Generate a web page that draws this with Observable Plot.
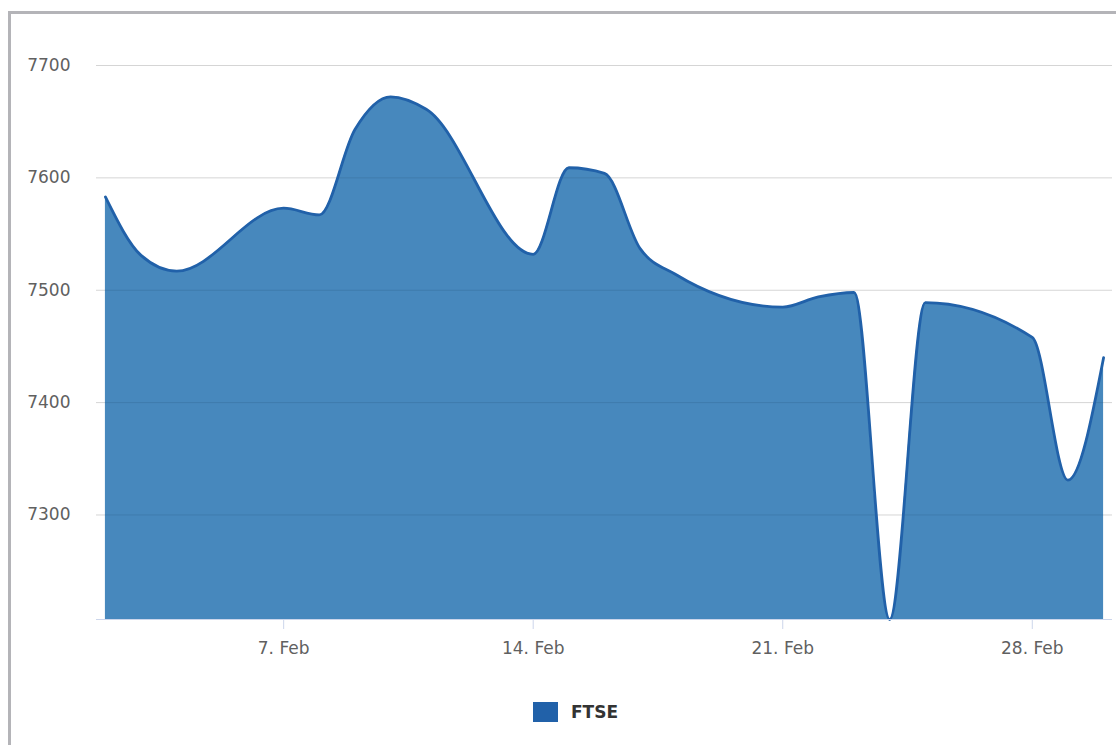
<!DOCTYPE html>
<html>
<head>
<meta charset="utf-8">
<script src="https://cdn.jsdelivr.net/npm/d3@7"></script>
<script src="https://cdn.jsdelivr.net/npm/@observablehq/plot@0.6"></script>
<style>
  html, body { margin: 0; padding: 0; background: #fff; }
  #wrap { position: relative; width: 1116px; height: 745px; overflow: hidden; font-family: "DejaVu Sans", sans-serif; }
  #frame { position: absolute; left: 8px; top: 11px; width: 1200px; height: 800px; border-left: 3px solid #b4b4b8; border-top: 3px solid #b4b4b8; box-sizing: border-box; }
  #chart { position: absolute; left: 0; top: 0; }
  #legend { position: absolute; left: 533px; top: 702px; display: flex; align-items: center; gap: 13px; }
  #legend .sw { width: 25px; height: 20px; background: #2161a9; }
  #legend .lb { font-family: "DejaVu Sans", sans-serif; font-weight: bold; font-size: 17px; color: #333; }
</style>
</head>
<body>
<div id="wrap">
  <div id="frame"></div>
  <div id="chart"></div>
  <div id="legend"><div class="sw"></div><div class="lb">FTSE</div></div>
</div>
<script>
const seriesName = "FTSE";
const dates = [
  "2022-02-02", "2022-02-03", "2022-02-04",
  "2022-02-07", "2022-02-08", "2022-02-09", "2022-02-10", "2022-02-11",
  "2022-02-14", "2022-02-15", "2022-02-16", "2022-02-17", "2022-02-18",
  "2022-02-21", "2022-02-22", "2022-02-23", "2022-02-24", "2022-02-25",
  "2022-02-28", "2022-03-01", "2022-03-02"
];
const values = [
  7583, 7531, 7517,
  7573, 7567, 7643, 7672, 7661,
  7532, 7609, 7604, 7537, 7514,
  7485, 7494, 7498, 7207, 7489,
  7458, 7331, 7440
];
const yTicks = [7300, 7400, 7500, 7600, 7700];
const xTickDates = ["2022-02-07", "2022-02-14", "2022-02-21", "2022-02-28"];
const monthLabel = "Feb";

const data = dates.map((d, i) => ({date: new Date(d + "T00:00:00Z"), value: values[i]}));
const xTicks = xTickDates.map(d => new Date(d + "T00:00:00Z"));
const yMin = d3.min(values);
const yMax = d3.max(yTicks);
const pad = 6 * 3600 * 1000;
const xDomain = [new Date(+data[0].date - pad), new Date(+data[data.length - 1].date + pad)];

const chart = Plot.plot({
  width: 1116,
  height: 680,
  marginLeft: 96,
  marginRight: 4,
  marginTop: 65,
  marginBottom: 61,
  style: {fontFamily: "DejaVu Sans, sans-serif", fontSize: "17px", background: "transparent"},
  x: {type: "utc", domain: xDomain, axis: null},
  y: {domain: [yMin, yMax], axis: null},
  marks: [
    Plot.gridY(yTicks, {stroke: "#e6e6e6", strokeOpacity: 1, strokeWidth: 1}),
    Plot.areaY(data, {x: "date", y1: yMin, y2: "value", curve: "monotone-x", fill: "#2773b1", fillOpacity: 0.85}),
    Plot.gridY(yTicks, {stroke: "#000", strokeOpacity: 0.07, strokeWidth: 1}),
    Plot.lineY(data, {x: "date", y: "value", curve: "monotone-x", stroke: "#2161a9", strokeWidth: 2.8}),
    Plot.ruleY([yMin], {stroke: "#ccd6eb", strokeWidth: 1}),
    Plot.axisX(xTicks, {tickSize: 10, text: null, color: "#ccd6eb"}),
    Plot.axisX(xTicks, {tickSize: 0, tickPadding: 22, tickFormat: d => `${d.getUTCDate()}. ${monthLabel}`, color: "#606060", fontSize: 17, label: null}),
    Plot.axisY(yTicks, {tickSize: 0, tickPadding: 26, tickFormat: d => String(d), color: "#606060", fontSize: 17, label: null})
  ]
});
document.getElementById("chart").appendChild(chart);
</script>
</body>
</html>
